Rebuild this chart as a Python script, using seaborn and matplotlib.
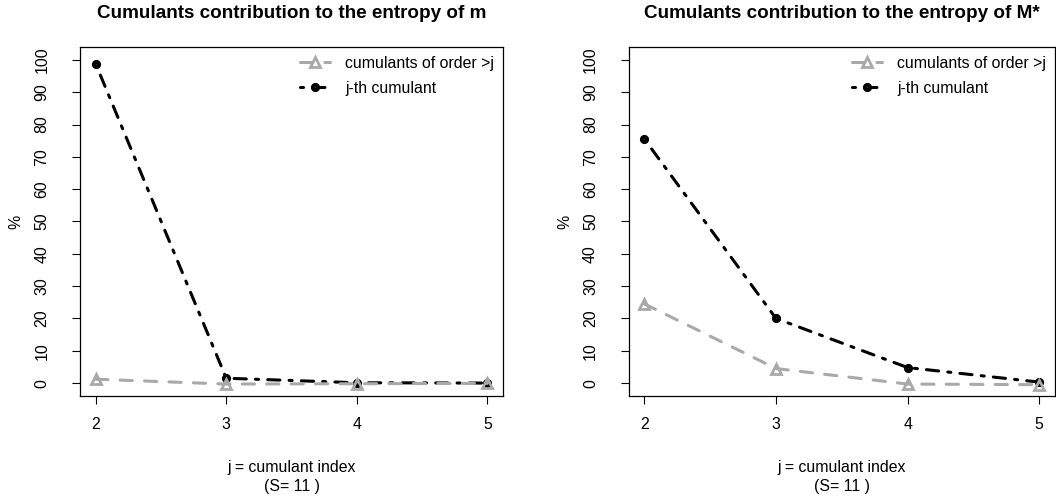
import matplotlib
matplotlib.use("Agg")
import matplotlib.pyplot as plt
import seaborn as sns
import pandas as pd

# ---- data ----
j_index = [2, 3, 4, 5]
m_higher = [1.2, -0.3, -0.2, -0.1]      # cumulants of order > j, entropy of m
m_jth = [98.8, 1.5, 0.1, 0.0]           # j-th cumulant, entropy of m
M_higher = [24.5, 4.5, -0.3, -0.5]      # cumulants of order > j, entropy of M*
M_jth = [75.5, 20.0, 4.8, 0.3]          # j-th cumulant, entropy of M*

titles = ["Cumulants contribution to the entropy of m",
          "Cumulants contribution to the entropy of M*"]
legend_labels = ["cumulants of order >j", "j-th cumulant"]
x_label = "j = cumulant index\n(S= 11 )"
y_label = "%"
y_ticks = list(range(0, 101, 10))
x_ticks = [2, 3, 4, 5]

sns.set_theme(style="white")
plt.rcParams["font.family"] = ["Liberation Sans", "DejaVu Sans"]
plt.rcParams["text.color"] = "black"
plt.rcParams["axes.labelcolor"] = "black"

GREY = "#A9A9A9"
FS = 11.4
fig = plt.figure(figsize=(10.56, 4.98), dpi=100)
ax_rects = [[80 / 1056, 102 / 498, 423 / 1056, 349 / 498],
            [628.6 / 1056, 102 / 498, 426.4 / 1056, 349 / 498]]
panels = [(m_higher, m_jth), (M_higher, M_jth)]

for rect, (higher, jth), title in zip(ax_rects, panels, titles):
    ax = fig.add_axes(rect)
    df = pd.DataFrame({"j": j_index, "jth": jth, "higher": higher})
    sns.lineplot(data=df, x="j", y="jth", ax=ax, color="black", lw=2.2,
                 linestyle=(0, (1, 3, 4, 3)), dash_capstyle="round",
                 marker="o", ms=3.6, mew=3.0, mec="black", mfc="white",
                 label=legend_labels[1])
    sns.lineplot(data=df, x="j", y="higher", ax=ax, color=GREY, lw=2.2,
                 linestyle=(0, (4, 4)), dash_capstyle="round",
                 marker="^", ms=7, mew=2.0, mec=GREY, mfc="none",
                 label=legend_labels[0])
    lines = ax.get_lines()
    ax.legend(handles=[lines[1], lines[0]], labels=legend_labels,
              loc="upper right", frameon=False, fontsize=FS,
              handlelength=1.9, handletextpad=1.0, labelspacing=0.62,
              borderaxespad=0.1, borderpad=0.45, numpoints=1)

    ax.set_xlim(1.88, 5.12)
    ax.set_ylim(-4, 104)
    ax.set_xticks(x_ticks)
    ax.set_yticks(y_ticks)
    ax.set_xticklabels([str(v) for v in x_ticks])
    ax.set_yticklabels([str(v) for v in y_ticks], rotation=90, va="center")
    ax.tick_params(axis="both", direction="out", length=6, width=0.8,
                   colors="black", labelsize=FS, left=True, bottom=True)
    ax.tick_params(axis="x", pad=9)
    ax.tick_params(axis="y", pad=16)
    for s in ax.spines.values():
        s.set_visible(True)
        s.set_color("black")
        s.set_linewidth(0.9)
    ax.set_xlabel(x_label, fontsize=FS, labelpad=20, linespacing=1.35)
    ax.set_ylabel(y_label, fontsize=FS, labelpad=8)
    ax.set_title(title, fontsize=13.6, fontweight="bold", pad=21)
    ax.grid(False)

fig.savefig("out.png", dpi=100)
